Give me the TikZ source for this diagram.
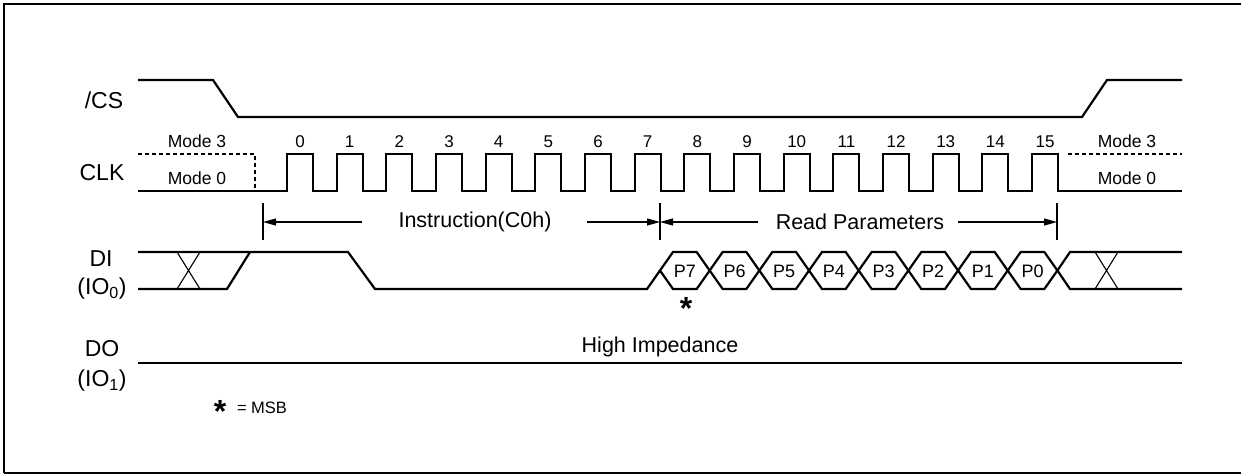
\documentclass[tikz,border=0pt]{standalone}
\usepackage{fontspec}
\setmainfont{Liberation Sans}
\usetikzlibrary{arrows.meta}
\tikzset{
  sig/.style={line width=2.2pt, line join=miter},
  thin/.style={line width=1.1pt},
  dotsig/.style={line width=2.2pt, dash pattern=on 4pt off 3pt},
  arr/.style={line width=1.1pt, -{Triangle[length=13pt,width=7pt]}},
  lbl/.style={font=\fontsize{23}{27}\selectfont, inner sep=0pt},
  mode/.style={font=\fontsize{17.5}{20}\selectfont, inner sep=0pt},
  num/.style={font=\fontsize{17}{20}\selectfont, inner sep=0pt},
  big/.style={font=\fontsize{21.5}{25}\selectfont, inner sep=0pt, fill=white},
  plab/.style={font=\fontsize{18}{21}\selectfont, inner sep=0pt},
  star/.style={font=\fontsize{32}{34}\selectfont\bfseries, inner sep=0pt, anchor=base},
}
\begin{document}
\begin{tikzpicture}[x=1pt,y=-1pt]
\useasboundingbox (0,0) rectangle (1241,475);
\draw[line width=2.2pt] (4,473) -- (4,4) -- (1250,4) (4,473) -- (1250,473);

% labels
\node[lbl] (lcs) at (104,100) {/CS};
\node[lbl] (lclk) at (102,173) {CLK};
\node[lbl] (ldi) at (101,259) {DI};
\node[lbl] (lio0) at (102,289) {(IO\textsubscript{0})};
\node[lbl] (ldo) at (102,349) {DO};
\node[lbl] (lio1) at (102,381) {(IO\textsubscript{1})};

% /CS
\draw[sig] (138,80) -- (213,80) -- (238,117) -- (1082,117) -- (1107,80) -- (1182,80);

% CLK
\draw[sig] (138,191) foreach \k in {0,...,15} { -- ({287+49.67*\k},191) -- ++(0,-37) -- ++(26,0) -- ++(0,37) } -- (1182,191);
\foreach \k in {0,...,15} \node[num] (n\k) at ({300+49.67*\k},142) {\k};
\draw[dotsig] (138,154) -- (255,154) -- (255,191);
\draw[dotsig] (1068,154) -- (1182,154);
\node[mode] (m3l) at (197,141) {Mode 3};
\node[mode] (m0l) at (197,178) {Mode 0};
\node[mode] (m3r) at (1127,141) {Mode 3};
\node[mode] (m0r) at (1127,178) {Mode 0};

% bars and arrows
\foreach \x/\n in {263/b0,660/b1,1057/b2} {
  \draw[thin] (\x,203) -- (\x,240);
  \coordinate (\n) at (\x,222);
}
\node[big] (instr) at (475,222) {Instruction(C0h)};
\node[big] (readp) at (860,222) {Read Parameters};
\coordinate (i1) at (362,222);
\coordinate (i2) at (587,222);
\coordinate (r1) at (758,222);
\coordinate (r2) at (958,222);
\draw[arr] (i1) -- (b0);
\draw[arr] (i2) -- (b1);
\draw[arr] (r1) -- (b1);
\draw[arr] (r2) -- (b2);

% DI
\draw[sig] (138,252) -- (348,252) -- (375,289) -- (647,289) -- (660,270.5);
\draw[sig] (138,289) -- (227,289) -- (250,252);
\draw[thin] (177,252) -- (200,289) (177,289) -- (200,252);
\foreach \j/\t in {0/P7,1/P6,2/P5,3/P4,4/P3,5/P2,6/P1,7/P0} {
  \pgfmathsetmacro{\ca}{660+49.67*\j}
  \pgfmathsetmacro{\cb}{660+49.67*(\j+1)}
  \draw[sig] (\ca,270.5) -- (\ca+13,252) -- (\cb-13,252) -- (\cb,270.5) -- (\cb-13,289) -- (\ca+13,289) -- cycle;
  \node[plab] (p\j) at ({(\ca+\cb)/2},271) {\t};
}
\draw[sig] (1182,252) -- (1070,252) -- (1057.4,270.5) -- (1070,289) -- (1182,289);
\draw[thin] (1095,252) -- (1118,289) (1095,289) -- (1118,252);
\node[star] (star) at (686,319) {*};

% DO
\draw[sig] (138,363) -- (1182,363);
\node[big] (hi) at (660,347) {High Impedance};

% legend
\node[star] (star2) at (220,422) {*};
\node[font=\fontsize{16.5}{19}\selectfont, inner sep=0pt] (msb) at (262,408) {= MSB};
\end{tikzpicture}
\end{document}
